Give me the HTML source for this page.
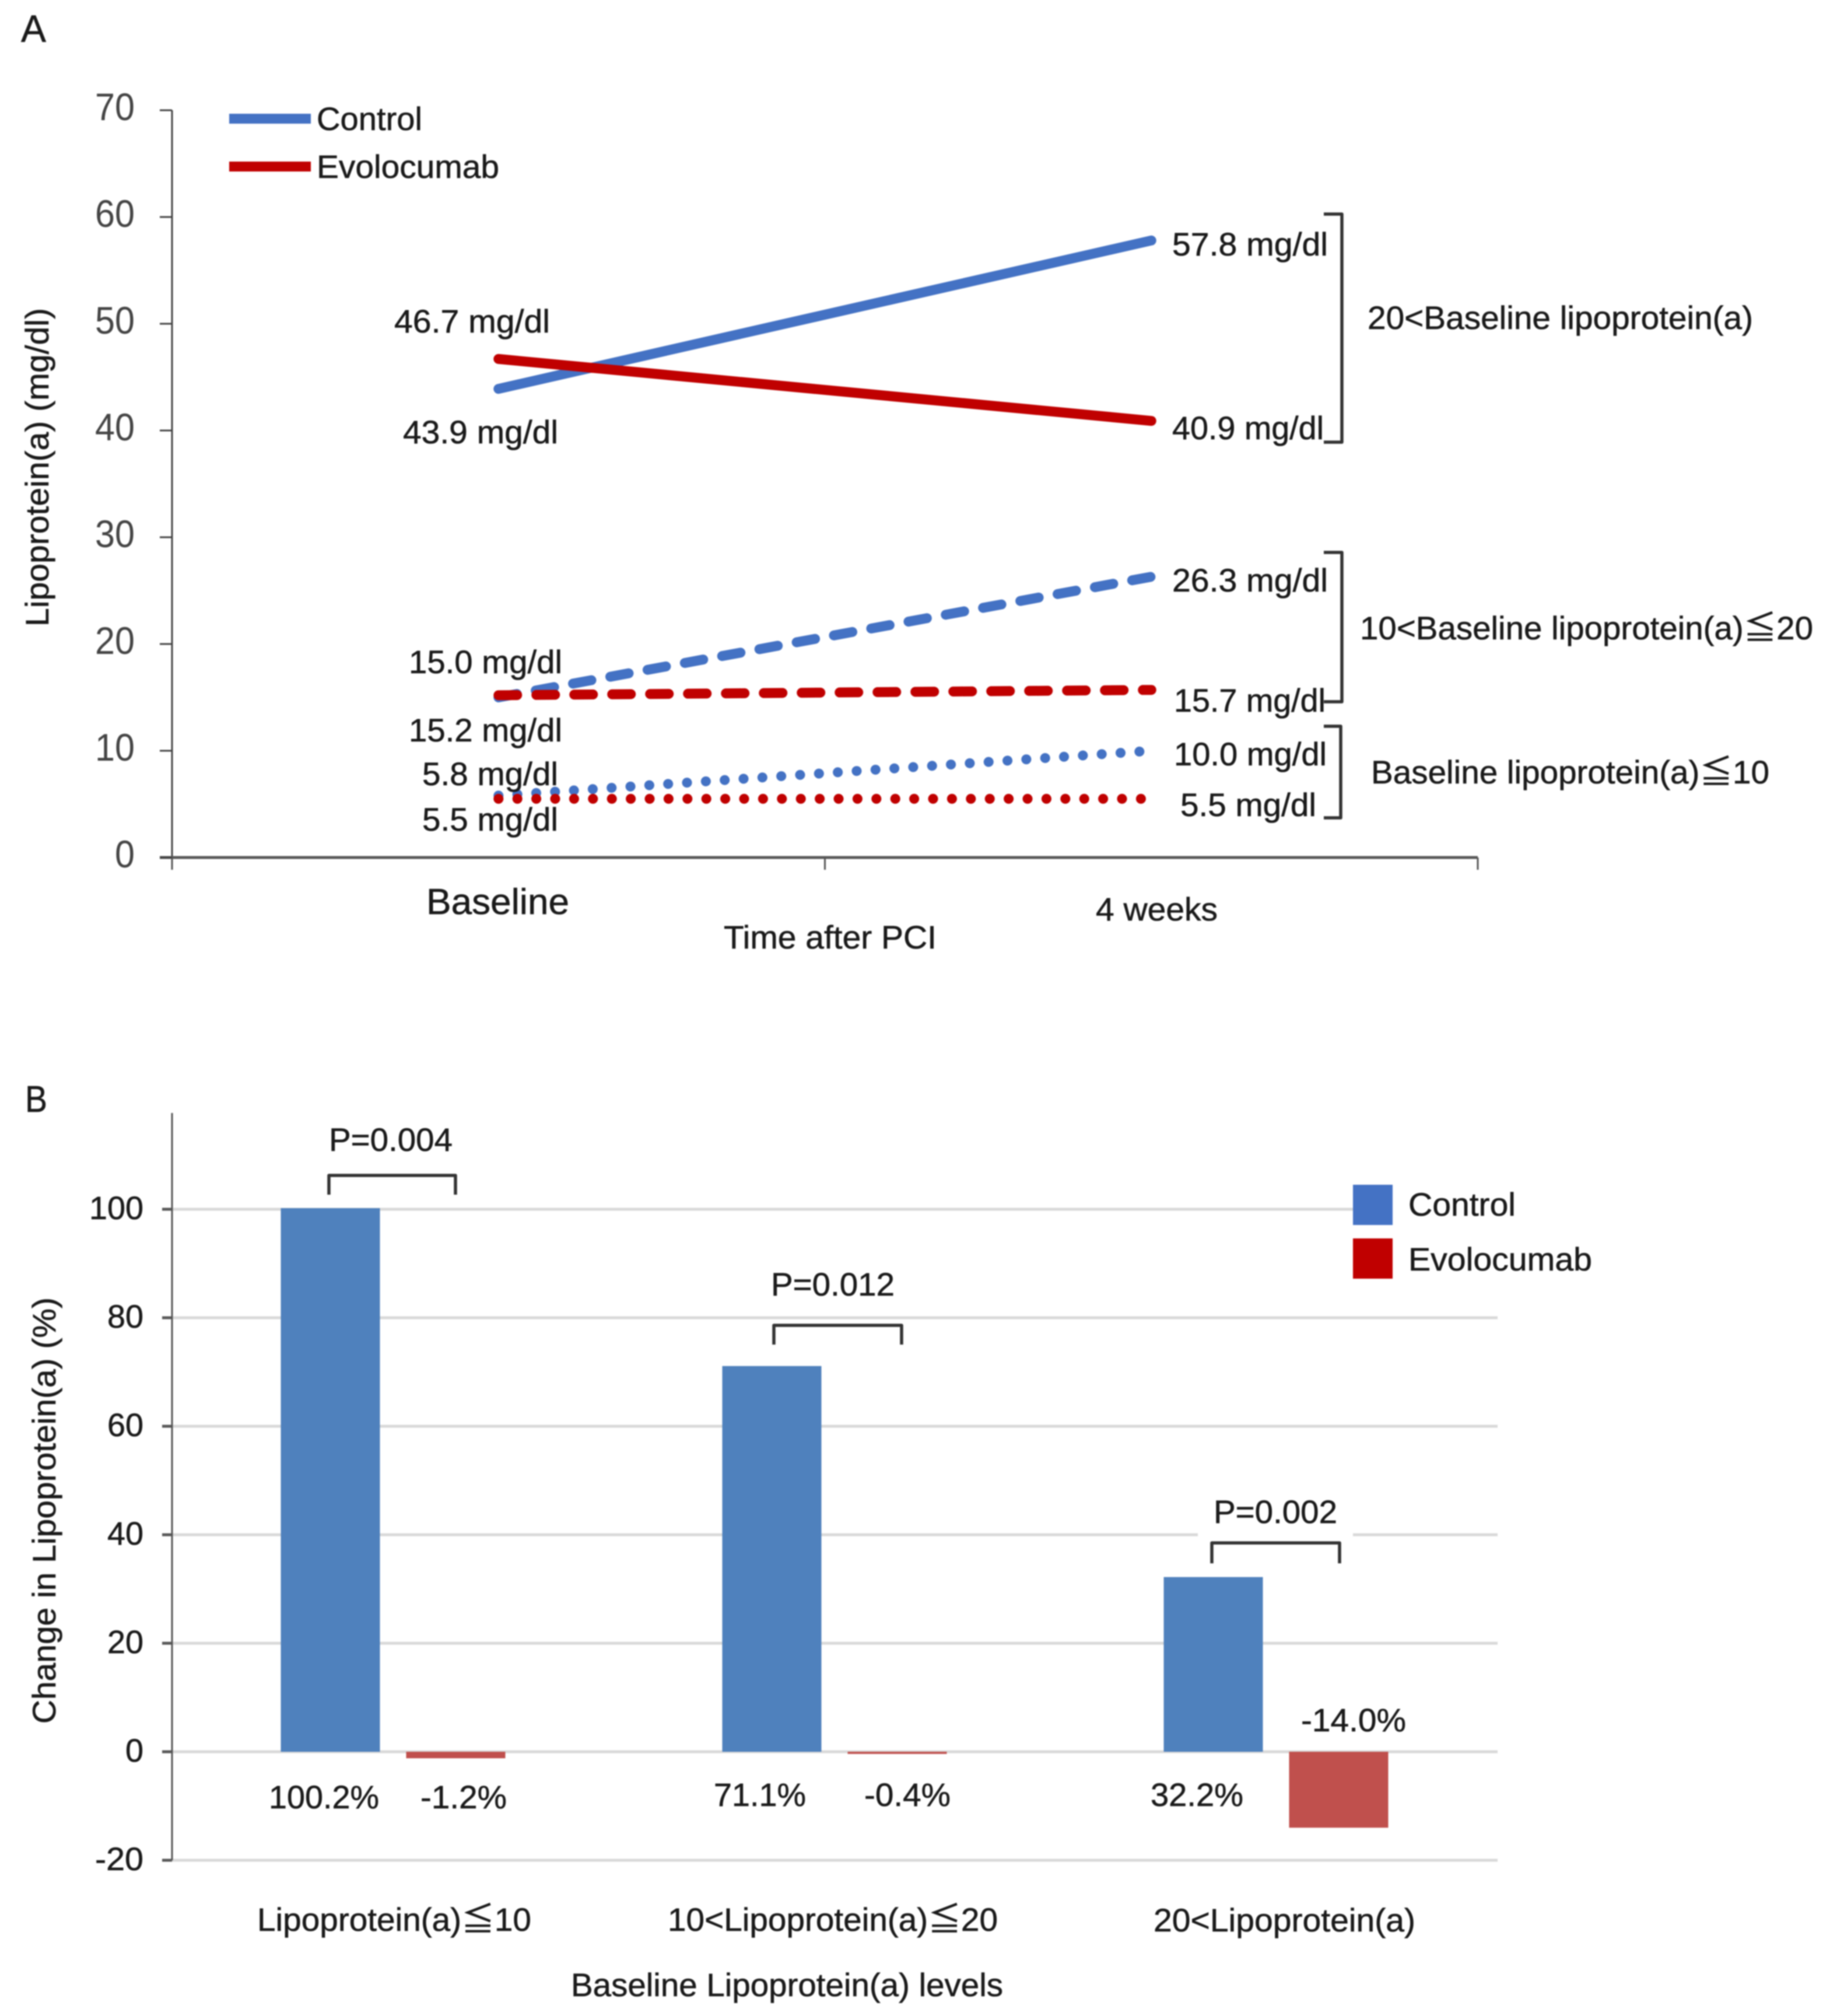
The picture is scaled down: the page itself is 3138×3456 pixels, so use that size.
<!DOCTYPE html>
<html lang="en">
<head>
<meta charset="utf-8">
<title>Lipoprotein(a) charts</title>
<style>
html,body{margin:0;padding:0;background:#fff;}
svg{display:block;filter:blur(1px);}
text{font-family:"Liberation Sans","Noto Sans CJK JP",sans-serif;fill:#1a1a1a;font-size:56px;stroke:#1a1a1a;stroke-width:0.6px;}
.br{fill:none;stroke:#333;stroke-width:5.5;stroke-linejoin:round;}
</style>
</head>
<body>
<svg id="fig" xmlns="http://www.w3.org/2000/svg" width="3138" height="3456" viewBox="0 0 3138 3456">
<rect x="0" y="0" width="3138" height="3456" fill="#fff"/>

<!-- Panel A static text -->
<text x="36" y="72" style="font-size:66px" textLength="43" lengthAdjust="spacingAndGlyphs">A</text>
<g id="panelA"></g>
<text x="543" y="223" textLength="181" lengthAdjust="spacingAndGlyphs">Control</text>
<text x="543" y="305" textLength="313" lengthAdjust="spacingAndGlyphs">Evolocumab</text>
<rect x="393" y="195" width="140" height="17" fill="#4472C4"/>
<rect x="393" y="277" width="140" height="17" fill="#C00000"/>

<text x="676" y="570" textLength="267" lengthAdjust="spacingAndGlyphs">46.7 mg/dl</text>
<text x="691" y="760" textLength="266" lengthAdjust="spacingAndGlyphs">43.9 mg/dl</text>
<text x="701" y="1154" textLength="263" lengthAdjust="spacingAndGlyphs">15.0 mg/dl</text>
<text x="701" y="1271" textLength="263" lengthAdjust="spacingAndGlyphs">15.2 mg/dl</text>
<text x="724" y="1346" textLength="233" lengthAdjust="spacingAndGlyphs">5.8 mg/dl</text>
<text x="724" y="1424" textLength="233" lengthAdjust="spacingAndGlyphs">5.5 mg/dl</text>

<text x="2010" y="438" textLength="267" lengthAdjust="spacingAndGlyphs">57.8 mg/dl</text>
<text x="2010" y="753" textLength="260" lengthAdjust="spacingAndGlyphs">40.9 mg/dl</text>
<text x="2010" y="1014" textLength="267" lengthAdjust="spacingAndGlyphs">26.3 mg/dl</text>
<text x="2013" y="1220" textLength="260" lengthAdjust="spacingAndGlyphs">15.7 mg/dl</text>
<text x="2013" y="1312" textLength="262" lengthAdjust="spacingAndGlyphs">10.0 mg/dl</text>
<text x="2024" y="1399" textLength="233" lengthAdjust="spacingAndGlyphs">5.5 mg/dl</text>

<path class="br" d="M2270 367H2301V758H2270"/>
<path class="br" d="M2270 947H2301V1203H2270"/>
<path class="br" d="M2270 1245H2299V1402H2270"/>
<text x="2345" y="564" textLength="661" lengthAdjust="spacingAndGlyphs">20&lt;Baseline lipoprotein(a)</text>
<text x="2332" y="1096" textLength="777" lengthAdjust="spacingAndGlyphs">10&lt;Baseline lipoprotein(a)≦20</text>
<text x="2351" y="1343" textLength="683" lengthAdjust="spacingAndGlyphs">Baseline lipoprotein(a)≦10</text>

<text x="731" y="1567" style="font-size:62px" textLength="245" lengthAdjust="spacingAndGlyphs">Baseline</text>
<text x="1879" y="1578" textLength="209" lengthAdjust="spacingAndGlyphs">4 weeks</text>
<text x="1241" y="1626" textLength="365" lengthAdjust="spacingAndGlyphs">Time after PCI</text>
<text transform="translate(83 1074) rotate(-90)" textLength="546" lengthAdjust="spacingAndGlyphs">Lipoprotein(a) (mg/dl)</text>

<!-- Panel B -->
<text x="43" y="1906" style="font-size:64px" textLength="38" lengthAdjust="spacingAndGlyphs">B</text>
<g id="panelB"></g>

<text x="564" y="1973" textLength="212" lengthAdjust="spacingAndGlyphs">P=0.004</text>
<path class="br" d="M564 2048V2015H781V2048"/>
<text x="1322" y="2221" textLength="212" lengthAdjust="spacingAndGlyphs">P=0.012</text>
<path class="br" d="M1333 2305V2272H1552V2305" transform="translate(-6 0)"/>
<text x="2081" y="2611" textLength="212" lengthAdjust="spacingAndGlyphs">P=0.002</text>
<path class="br" d="M2078 2680V2645H2297V2680"/>

<text x="461" y="3100" textLength="189" lengthAdjust="spacingAndGlyphs">100.2%</text>
<text x="721" y="3100" textLength="148" lengthAdjust="spacingAndGlyphs">-1.2%</text>
<text x="1224" y="3096" textLength="158" lengthAdjust="spacingAndGlyphs">71.1%</text>
<text x="1482" y="3096" textLength="148" lengthAdjust="spacingAndGlyphs">-0.4%</text>
<text x="1973" y="3096" textLength="159" lengthAdjust="spacingAndGlyphs">32.2%</text>
<text x="2231" y="2968" textLength="180" lengthAdjust="spacingAndGlyphs">-14.0%</text>

<text x="441" y="3310" textLength="470" lengthAdjust="spacingAndGlyphs">Lipoprotein(a)≦10</text>
<text x="1145" y="3310" textLength="566" lengthAdjust="spacingAndGlyphs">10&lt;Lipoprotein(a)≦20</text>
<text x="1978" y="3311" textLength="449" lengthAdjust="spacingAndGlyphs">20&lt;Lipoprotein(a)</text>
<text x="979" y="3422" textLength="741" lengthAdjust="spacingAndGlyphs">Baseline Lipoprotein(a) levels</text>
<text transform="translate(95 2955) rotate(-90)" textLength="731" lengthAdjust="spacingAndGlyphs">Change in Lipoprotein(a) (%)</text>

<rect x="2320" y="2031" width="68" height="69" fill="#4472C4"/>
<rect x="2320" y="2123" width="68" height="69" fill="#C00000"/>
<text x="2415" y="2084" textLength="184" lengthAdjust="spacingAndGlyphs">Control</text>
<text x="2415" y="2178" textLength="315" lengthAdjust="spacingAndGlyphs">Evolocumab</text>
</svg>

<script>
// Panel A data
const timepoints = ['Baseline', '4 weeks'];
const controlHigh = [43.9, 57.8];
const evolocumabHigh = [46.7, 40.9];
const controlMid = [15.0, 26.3];
const evolocumabMid = [15.2, 15.7];
const controlLow = [5.8, 10.0];
const evolocumabLow = [5.5, 5.5];
const ticksA = [0, 10, 20, 30, 40, 50, 60, 70];

// Panel B data
const groups = ['Lipoprotein(a)≦10', '10<Lipoprotein(a)≦20', '20<Lipoprotein(a)'];
const changeControl = [100.2, 71.1, 32.2];
const changeEvolocumab = [-1.2, -0.4, -14.0];
const ticksB = [-20, 0, 20, 40, 60, 80, 100];

const NS = 'http://www.w3.org/2000/svg';
const gA = document.getElementById('panelA');
const gB = document.getElementById('panelB');

function yA(v) { return 1470 - 18.3 * v; }
function bandA(i) { return 295 + (2534 - 295) / timepoints.length * (i + 0.5); }
function yB(v) { return 3003 - 9.3 * v; }
function bandB(i) { return 295 + 757 * (i + 0.5); }

function mk(tag, parent, attrs) {
  const el = document.createElementNS(NS, tag);
  for (const k in attrs) el.setAttribute(k, attrs[k]);
  parent.appendChild(el);
  return el;
}
function seg(parent, x1, y1, x2, y2, stroke, w) {
  return mk('line', parent, { x1: x1, y1: y1, x2: x2, y2: y2, stroke: stroke, 'stroke-width': w });
}

// ---------- Panel A ----------
const axisYA = seg(gA, 295, yA(70), 295, 1491, '#444', 3);



const axisXA = seg(gA, 274, yA(0), 2534, yA(0), '#595959', 5);



for (let i = 0; i <= timepoints.length; i++) {
  const bx = 295 + (2534 - 295) / timepoints.length * i;
  const xt = seg(gA, bx, yA(0), bx, 1491, '#555', 3);
  
  
}

ticksA.forEach(function (v) {
  const t = seg(gA, 274, yA(v), 295, yA(v), '#444', 3);
  
  
  const s = String(v);
  const lab = mk('text', gA, { x: 231, y: yA(v) + 17, 'text-anchor': 'end', textLength: 34 * s.length, lengthAdjust: 'spacingAndGlyphs' });
  lab.style.fontSize = '66px';
  lab.style.fill = '#444';
  lab.style.stroke = 'none';
  lab.textContent = s;
  
  
});

function seriesA(values, color, dash) {
  const attrs = {
    points: values.map(function (v, i) { return bandA(i) + ',' + yA(v); }).join(' '),
    fill: 'none', stroke: color, 'stroke-width': 17, 'stroke-linecap': 'round'
  };
  if (dash) attrs['stroke-dasharray'] = dash;
  return mk('polyline', gA, attrs);
}

const lineControlHigh = seriesA(controlHigh, '#4472C4');



const lineEvoHigh = seriesA(evolocumabHigh, '#C00000');



const lineControlMid = seriesA(controlMid, '#4472C4', '32 33');



const lineEvoMid = seriesA(evolocumabMid, '#C00000', '32 33');



const lineControlLow = seriesA(controlLow, '#4472C4', '0.1 32.3');



const lineEvoLow = seriesA(evolocumabLow, '#C00000', '0.1 32.3');



// ---------- Panel B ----------
ticksB.forEach(function (v) {
  const grid = seg(gB, 295, yB(v), 2568, yB(v), '#d9d9d9', 5);
  
  
  const t = seg(gB, 278, yB(v), 295, yB(v), '#595959', 5);
  
  
  const s = String(v);
  const digits = s.replace('-', '').length;
  const lab = mk('text', gB, { x: 246, y: yB(v) + 17, 'text-anchor': 'end', textLength: 31 * digits + (v < 0 ? 21 : 0), lengthAdjust: 'spacingAndGlyphs' });
  lab.textContent = s;
  
  
});

const maskLegend = mk('rect', gB, { x: 2320, y: 2020, width: 440, height: 190, fill: '#fff' });



const maskP = mk('rect', gB, { x: 2054, y: yB(40) - 6, width: 266, height: 12, fill: '#fff' });



const axisYB = seg(gB, 295, 1908, 295, yB(-20), '#555', 3);



function barB(i, v, offset, color) {
  const top = Math.min(yB(0), yB(v));
  const h = Math.abs(yB(v) - yB(0));
  return mk('rect', gB, { x: bandB(i) + offset, y: top, width: 170, height: h, fill: color });
}

groups.forEach(function (g, i) {
  const bc = barB(i, changeControl[i], -192, '#4F81BD');
  
  
  const be = barB(i, changeEvolocumab[i], 23, '#C0504D');
  
  
});
</script>
</body>
</html>
